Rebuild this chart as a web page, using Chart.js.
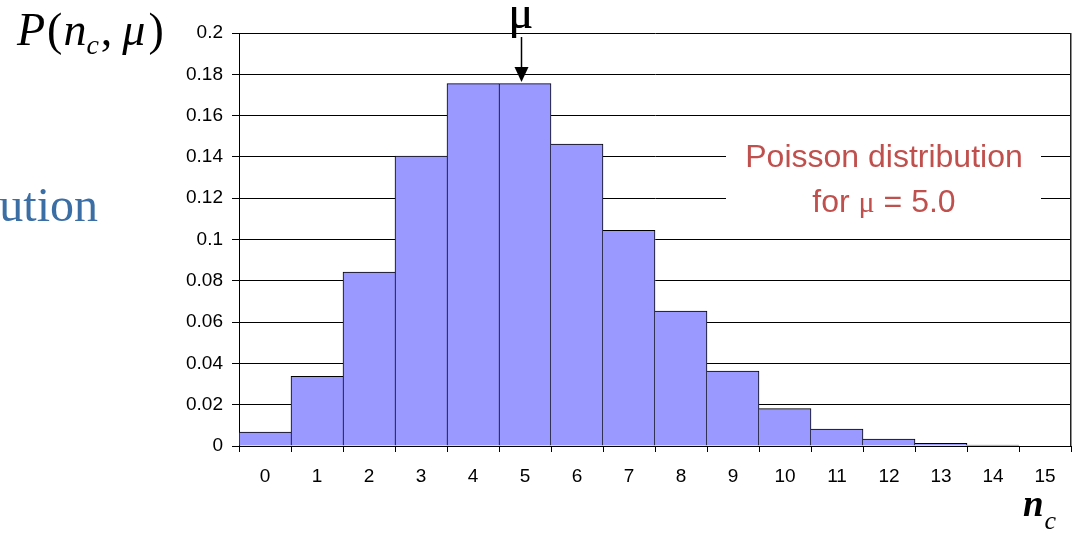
<!DOCTYPE html>
<html>
<head>
<meta charset="utf-8">
<script src="https://cdn.jsdelivr.net/npm/chart.js@4.4.1/dist/chart.umd.min.js"></script>
<style>
  html, body { margin: 0; padding: 0; background: #fff; }
  #wrap { width: 1078px; height: 533px; position: relative; }
</style>
</head>
<body>
<div id="wrap"><canvas id="c" width="1078" height="533"></canvas></div>
<script>
// Counts n_c and Poisson probabilities P(n_c, mu) for mu = 5.0
const counts = ['0','1','2','3','4','5','6','7','8','9','10','11','12','13','14','15'];
const probabilities = [0.0067, 0.0337, 0.0842, 0.1404, 0.1755, 0.1755, 0.1462, 0.1044,
                       0.0653, 0.0363, 0.0181, 0.0082, 0.0034, 0.0013, 0.0005, null];
const yTickLabels = ['0','0.02','0.04','0.06','0.08','0.1','0.12','0.14','0.16','0.18','0.2'];
const meanValue = 5.0;

const SANS = "'Liberation Sans', Arial, sans-serif";
const SERIF = "'Liberation Serif', 'Times New Roman', serif";

function val(i) { const v = probabilities[i]; return v == null ? 0 : v; }

// Borders: the taller bar of each adjacent pair draws the shared edge
function barBorder(ctx) {
  const i = ctx.dataIndex;
  const h = val(i);
  const prev = i > 0 ? val(i - 1) : -1;
  const next = i < probabilities.length - 1 ? val(i + 1) : -1;
  return { top: 1, left: h >= prev ? 1 : 0, right: h > next ? 1 : 0, bottom: 0 };
}

// Draws a run of text pieces with individual fonts, starting at x
function drawRuns(ctx, runs, x, y, align) {
  let total = 0;
  runs.forEach(r => { ctx.font = r.font; total += ctx.measureText(r.text).width + (r.gap || 0); });
  let cx = align === 'center' ? x - total / 2 : x;
  ctx.textAlign = 'left';
  ctx.textBaseline = 'alphabetic';
  runs.forEach(r => {
    ctx.font = r.font;
    ctx.fillText(r.text, cx, y + (r.dy || 0));
    cx += ctx.measureText(r.text).width + (r.gap || 0);
  });
}

const decorations = {
  id: 'decorations',
  beforeDatasetsDraw(chart) {
    const ctx = chart.ctx;
    ctx.save();
    // caption box over the gridlines
    ctx.fillStyle = '#fff';
    ctx.fillRect(726, 121, 315, 114);
    ctx.fillStyle = '#C0504D';
    drawRuns(ctx, [{ text: 'Poisson distribution', font: '32px ' + SANS }], 884, 167, 'center');
    drawRuns(ctx, [
      { text: 'for ', font: '32px ' + SANS },
      { text: 'μ', font: '30px ' + SERIF },
      { text: ' = ' + meanValue.toFixed(1), font: '32px ' + SANS }
    ], 884, 212, 'center');
    ctx.restore();
  },
  afterDraw(chart) {
    const ctx = chart.ctx;
    const area = chart.chartArea;
    const xs = chart.scales.x;
    ctx.save();
    // right frame edge
    ctx.strokeStyle = '#222';
    ctx.lineWidth = 1.5;
    ctx.beginPath();
    ctx.moveTo(area.right - 0.25, area.top);
    ctx.lineTo(area.right - 0.25, area.bottom);
    ctx.stroke();

    // mean marker: mu with a downward arrow
    const ax = Math.round(xs.getPixelForValue(meanValue)) - 4 + 0.5;
    ctx.fillStyle = '#000';
    ctx.font = '46px ' + SERIF;
    ctx.textAlign = 'center';
    ctx.textBaseline = 'alphabetic';
    ctx.fillText('μ', ax - 1, 28);
    ctx.fillText('μ', ax - 0.5, 28);
    ctx.strokeStyle = '#000';
    ctx.lineWidth = 1.5;
    ctx.beginPath();
    ctx.moveTo(ax, 37);
    ctx.lineTo(ax, 68);
    ctx.stroke();
    ctx.beginPath();
    ctx.moveTo(ax - 7, 67);
    ctx.lineTo(ax + 7, 67);
    ctx.lineTo(ax, 82);
    ctx.closePath();
    ctx.fill();

    // axis titles
    ctx.fillStyle = '#000';
    drawRuns(ctx, [
      { text: 'P', font: 'italic 46px ' + SERIF, gap: 2 },
      { text: '(', font: '46px ' + SERIF, gap: 1 },
      { text: 'n', font: 'italic 46px ' + SERIF },
      { text: 'c', font: 'italic 28px ' + SERIF, dy: 9, gap: 2 },
      { text: ',', font: '46px ' + SERIF, gap: 10 },
      { text: 'μ', font: 'italic 46px ' + SERIF, gap: 3 },
      { text: ')', font: '46px ' + SERIF }
    ], 17, 45, 'left');
    drawRuns(ctx, [
      { text: 'n', font: 'italic bold 37px ' + SERIF, gap: 1 },
      { text: 'c', font: 'italic 26px ' + SERIF, dy: 13 }
    ], 1023, 516, 'left');

    // partial heading text at the left edge
    ctx.fillStyle = '#3A6EA5';
    ctx.font = '48px ' + SERIF;
    ctx.textAlign = 'right';
    ctx.fillText('ution', 98, 221);
    ctx.restore();
  }
};

new Chart(document.getElementById('c'), {
  type: 'bar',
  data: {
    labels: counts,
    datasets: [{
      data: probabilities,
      backgroundColor: '#9999FF',
      borderColor: '#000',
      borderWidth: barBorder,
      borderSkipped: false,
      categoryPercentage: 1.0,
      barPercentage: 1.0
    }]
  },
  options: {
    responsive: false,
    animation: false,
    devicePixelRatio: 1,
    layout: { padding: { left: 0, right: 7, top: 33, bottom: 0 } },
    plugins: { legend: { display: false }, tooltip: { enabled: false } },
    scales: {
      x: {
        grid: { offset: true, drawOnChartArea: false, drawTicks: true, tickLength: 6, color: '#000', lineWidth: 1 },
        border: { display: true, color: '#000', width: 1 },
        ticks: { color: '#000', font: { family: SANS, size: 19 }, padding: 13, maxRotation: 0, autoSkip: false },
        afterFit(s) { s.height = 87; }
      },
      y: {
        min: 0,
        max: 0.2,
        ticks: {
          stepSize: 0.02,
          color: '#000',
          font: { family: SANS, size: 19 },
          padding: 9,
          callback: (v, i) => yTickLabels[i]
        },
        grid: { color: '#000', lineWidth: 1, tickLength: 7 },
        border: { display: true, color: '#000', width: 1 },
        afterFit(s) { s.width = 239; }
      }
    }
  },
  plugins: [decorations]
});
</script>
</body>
</html>
